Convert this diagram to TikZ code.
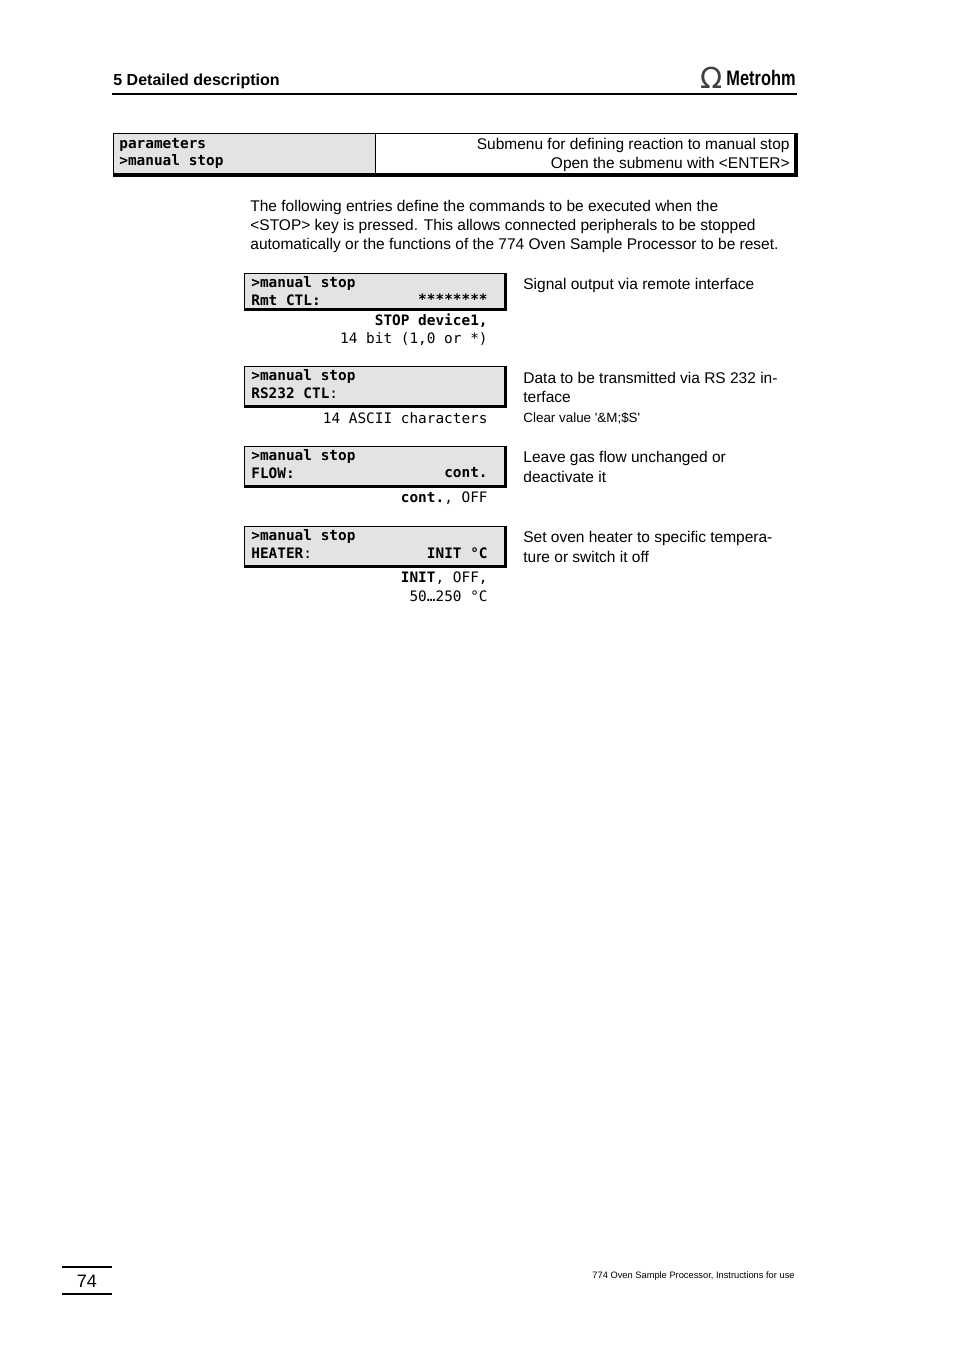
\documentclass[tikz,border=0pt]{standalone}
\usepackage{fontspec}
\usepackage{graphicx}
\setmainfont{Liberation Sans}
\newfontfamily\lcdfont{DejaVu Sans Mono}
\newfontfamily\symfont{DejaVu Sans}
\usetikzlibrary{positioning}

\tikzset{
  txt/.style={font=\fontsize{7.75}{9}\selectfont, inner sep=0pt},
  small/.style={font=\fontsize{6.7}{8}\selectfont, inner sep=0pt},
  lcd/.style={font=\lcdfont\fontsize{7.2}{9}\selectfont\bfseries, inner sep=0pt},
  lcdn/.style={font=\lcdfont\fontsize{7.2}{9}\selectfont, inner sep=0pt},
  panel/.style={fill=black!11, draw=black, line width=0.5pt},
  edge/.style={line width=1.9pt}
}

\begin{document}
\begin{tikzpicture}[x=0.5pt,y=-0.5pt]
        \useasboundingbox (0,0) rectangle (954,1351);
        % header
        \node[anchor=west, inner sep=0pt, font=\fontsize{8}{9}\selectfont\bfseries] (sec) at (113,81.5) {5 Detailed description};
        \node[anchor=east, inner sep=0pt, font=\fontsize{10.5}{12}\selectfont\bfseries] (logo) at (796,78) {\scalebox{0.78}[1]{Metrohm}};
        \node[left=1.5pt of logo, inner sep=0pt, font=\symfont\fontsize{14.5}{15}\selectfont, text=black!75] (omega) {Ω};
        \draw[line width=1pt] (112,94) -- (797,94);

        % parameters line
        \draw[panel] (113,133) rectangle (375,175);
        \draw[line width=0.5pt] (375,133) rectangle (796,175);
        \draw[edge] (113,175) -- (796,175) -- (796,133);
        \node[lcd, anchor=west] (par) at (119,145) {parameters};
        \node[lcd, anchor=west] (mst) at (119,161.5) {>manual stop};
        \node[txt, anchor=east] (sub) at (790,145) {Submenu for defining reaction to manual stop};
        \node[txt, anchor=east] (ent) at (790,164) {Open the submenu with <ENTER>};

        % intro text
        \node[txt, anchor=west] (p1) at (250,207) {The following entries define the commands to be executed when the};
        \node[txt, anchor=west] (p2) at (250,226) {<STOP> key is pressed. This allows connected peripherals to be stopped};
        \node[txt, anchor=west] (p3) at (250,245) {automatically or the functions of the 774 Oven Sample Processor to be reset.};

        % display panels
        \foreach \t/\b in {273/309.5, 366/406.5, 446/486.5, 526/566.5} {
            \draw[panel] (244,\t) rectangle (505,\b);
            \draw[edge] (244,\b) -- (505.5,\b) -- (505.5,\t);
        }

        % Rmt CTL
        \node[lcd, anchor=west] (a1) at (251,283.5) {>manual stop};
        \node[lcd, anchor=west] (a2) at (251,300) {Rmt CTL:};
        \node[lcd, anchor=east] (a3) at (488,299.5) {********};
        \node[lcd, anchor=east] (a4) at (488,321) {STOP device1,};
        \node[lcdn, anchor=east] (a5) at (488,339) {14 bit (1,0 or *)};
        \node[txt, anchor=west] (ad) at (523,285) {Signal output via remote interface};

        % RS232 CTL
        \node[lcd, anchor=west] (b1) at (251,376.5) {>manual stop};
        \node[lcd, anchor=west] (b2) at (251,393) {RS232 CTL\textmd{:}};
        \node[lcdn, anchor=east] (b3) at (488,418) {14 ASCII characters};
        \node[txt, anchor=west] (bd1) at (523,378) {Data to be transmitted via RS 232 in-};
        \node[txt, anchor=west] (bd2) at (523,397) {terface};
        \node[small, anchor=west] (bd3) at (523,418) {Clear value \textquotesingle\&M;\$S\textquotesingle};

        % FLOW
        \node[lcd, anchor=west] (c1) at (251,456.5) {>manual stop};
        \node[lcd, anchor=west] (c2) at (251,473) {FLOW:};
        \node[lcd, anchor=east] (c3) at (488,473) {cont.};
        \node[lcdn, anchor=east] (c4) at (488,498) {\textbf{cont.}, OFF};
        \node[txt, anchor=west] (cd1) at (523,458) {Leave gas flow unchanged or};
        \node[txt, anchor=west] (cd2) at (523,477) {deactivate it};

        % HEATER
        \node[lcd, anchor=west] (d1) at (251,536.5) {>manual stop};
        \node[lcd, anchor=west] (d2) at (251,553) {HEATER\textmd{:}};
        \node[lcd, anchor=east] (d3) at (488,553) {INIT °C};
        \node[lcdn, anchor=east] (d4) at (488,578) {\textbf{INIT}, OFF,};
        \node[lcdn, anchor=east] (d5) at (488,596) {50…250 °C};
        \node[txt, anchor=west] (dd1) at (523,538) {Set oven heater to specific tempera-};
        \node[txt, anchor=west] (dd2) at (523,557) {ture or switch it off};

        % footer
        \draw[line width=0.6pt] (62,1267) -- (112,1267);
        \draw[line width=0.6pt] (62,1294) -- (112,1294);
        \node[inner sep=0pt, font=\fontsize{9}{10}\selectfont] (pg) at (87,1281) {74};
        \node[anchor=east, inner sep=0pt, font=\fontsize{4.65}{5}\selectfont] (foot) at (795,1276) {774 Oven Sample Processor, Instructions for use};
\end{tikzpicture}
\end{document}
